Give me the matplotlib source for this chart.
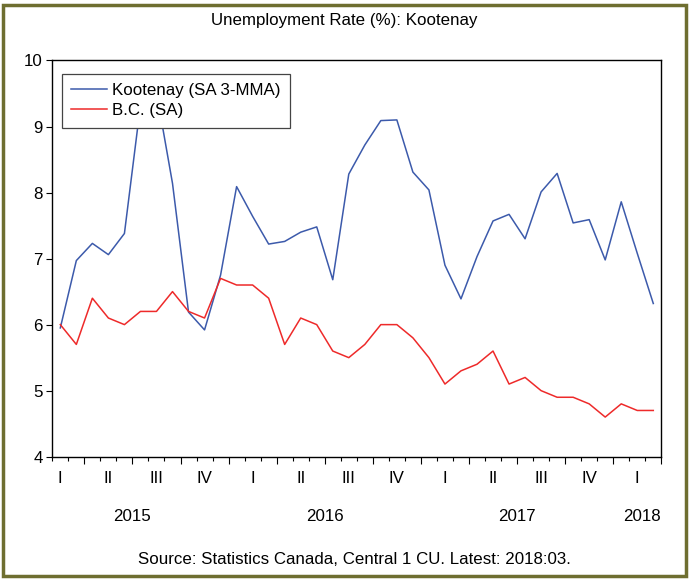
import numpy as np
import matplotlib
matplotlib.use("Agg")
import matplotlib.pyplot as plt
from matplotlib.patches import Rectangle

plt.rcParams["font.family"] = ["Liberation Sans", "DejaVu Sans"]

# monthly series, Jan 2015 - Feb 2018
kootenay = [5.95, 6.97, 7.23, 7.06, 7.38, 9.32, 9.52, 8.14, 6.19, 5.92,
            6.75, 8.09, 7.64, 7.22, 7.26, 7.40, 7.48, 6.68, 8.28, 8.72,
            9.09, 9.10, 8.31, 8.04, 6.90, 6.39, 7.03, 7.57, 7.67, 7.30,
            8.01, 8.29, 7.54, 7.59, 6.98, 7.86, 7.08, 6.32]
bc = [6.0, 5.7, 6.4, 6.1, 6.0, 6.2, 6.2, 6.5, 6.2, 6.1,
      6.7, 6.6, 6.6, 6.4, 5.7, 6.1, 6.0, 5.6, 5.5, 5.7,
      6.0, 6.0, 5.8, 5.5, 5.1, 5.3, 5.4, 5.6, 5.1, 5.2,
      5.0, 4.9, 4.9, 4.8, 4.6, 4.8, 4.7, 4.7]
quarter_labels = ["I", "II", "III", "IV"] * 3 + ["I"]
year_labels = ["2015", "2016", "2017", "2018"]
year_pos = [4.5, 16.5, 28.5, 36.9]

FS = 12.2
n = len(kootenay)
x = np.arange(n)

fig = plt.figure(figsize=(6.89, 5.8), dpi=100)
ax = fig.add_axes([0.0759, 0.2126, 0.8839, 0.6831])

ax.plot(x, kootenay, color="#3c5aab", lw=1.1, label="Kootenay (SA 3-MMA)")
ax.plot(x, bc, color="#ee2a2a", lw=1.1, label="B.C. (SA)")

ax.set_xlim(-0.5, n - 0.5)
ax.set_ylim(4, 10)
ax.set_yticks(range(4, 11))
ax.tick_params(axis="y", length=4.3, width=0.8, labelsize=FS, pad=2.5)

# month ticks short, quarter ticks long; labels drawn separately
ax.set_xticks(np.arange(1.5, n, 3))
ax.set_xticks(np.arange(-0.5, n, 1), minor=True)
ax.set_xticklabels([])
ax.tick_params(axis="x", which="major", length=5, width=0.8)
ax.tick_params(axis="x", which="minor", length=2.9, width=0.8)

tr = ax.get_xaxis_transform()
for i, lab in enumerate(quarter_labels):
    ax.text(i * 3, -0.056, lab, transform=tr, ha="center", va="center", fontsize=FS)
for pos, lab in zip(year_pos[:-1], year_labels[:-1]):
    ax.text(pos, -0.150, lab, transform=tr, ha="center", va="center", fontsize=FS)
ax.text(n - 0.55, -0.150, year_labels[-1], transform=tr, ha="right", va="center", fontsize=FS)

for s in ax.spines.values():
    s.set_linewidth(1.0)

leg = ax.legend(loc="upper left", bbox_to_anchor=(0.016, 0.966), borderaxespad=0,
                fancybox=False, framealpha=1, edgecolor="#444444", fontsize=FS,
                handlelength=2.1, handletextpad=0.3, borderpad=0.55, labelspacing=0.3)
leg.get_frame().set_linewidth(0.9)

fig.text(0.5, 1 - 20 / 580, "Unemployment Rate (%): Kootenay", ha="center", va="center", fontsize=FS)
fig.text(0.515, 1 - 560 / 580, "Source: Statistics Canada, Central 1 CU. Latest: 2018:03.",
         ha="center", va="center", fontsize=FS)

fig.patches.append(Rectangle((2.5 / 689, 4 / 580), 683 / 689, 571 / 580, transform=fig.transFigure,
                             fill=False, edgecolor="#6e6e30", linewidth=2.5))

fig.savefig("out.png", dpi=100)
